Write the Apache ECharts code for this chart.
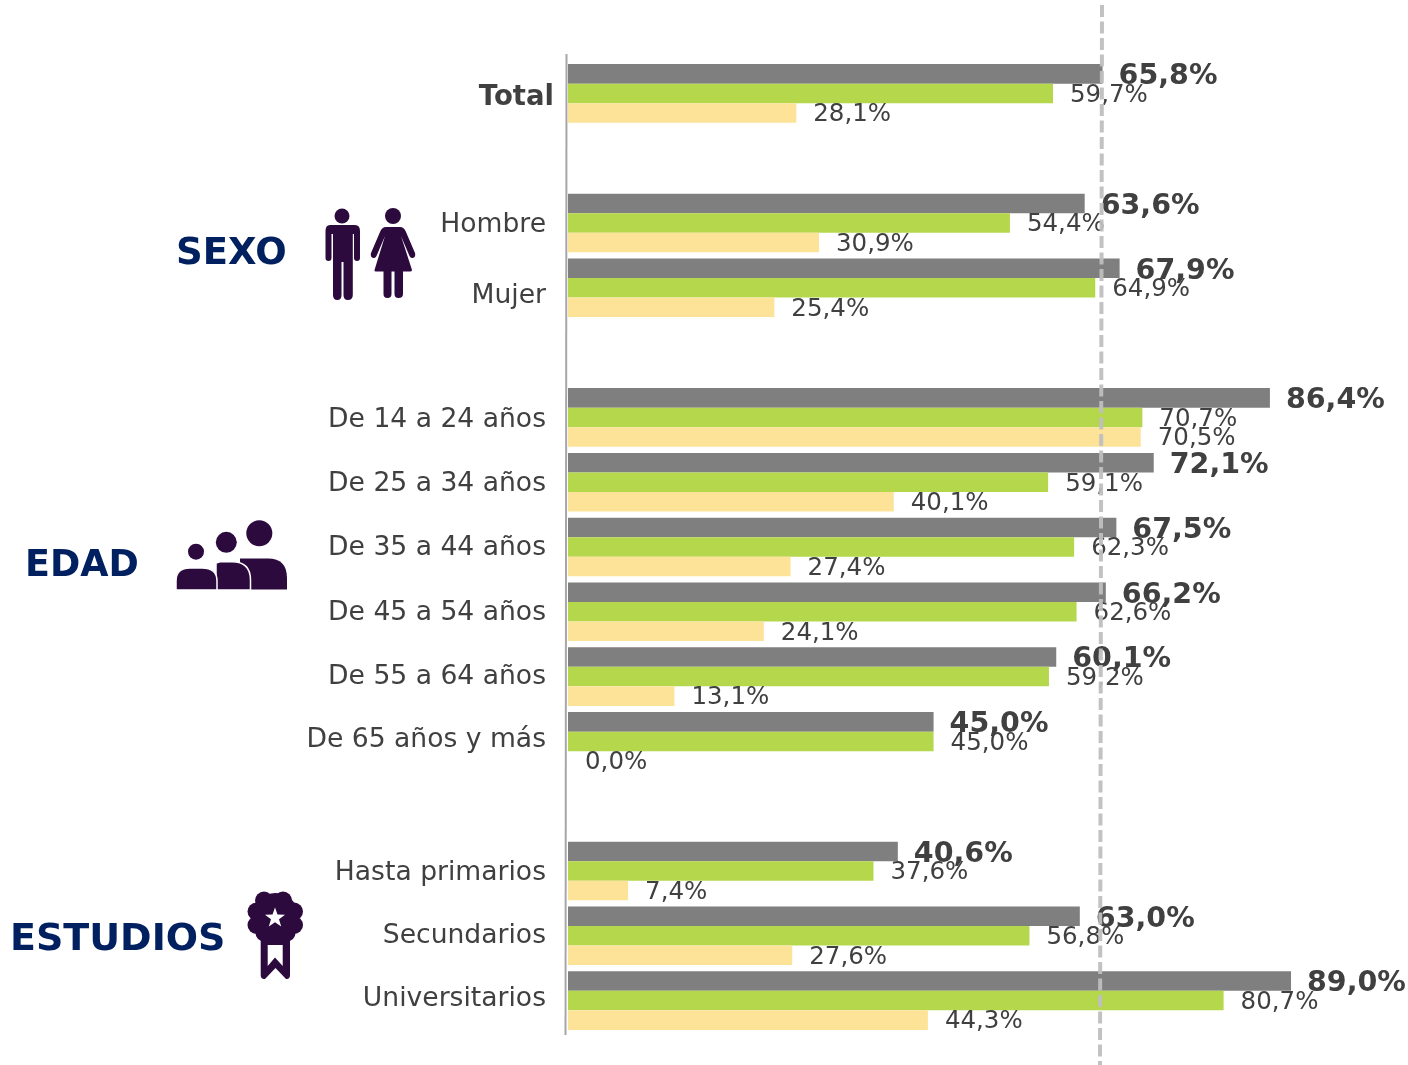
<!DOCTYPE html>
<html>
<head>
<meta charset="utf-8">
<title>Chart</title>
<script src="https://cdn.jsdelivr.net/npm/echarts@6/dist/echarts.min.js"></script>
<style>
html, body { margin: 0; padding: 0; background: #fff; }
#container { width: 1408px; height: 1065px; }
</style>
</head>
<body>
<div id="container"></div>
<script>
// empty strings are the gaps between the blocks
const categories = ['Total', '', 'Hombre', 'Mujer', ' ', 'De 14 a 24 años', 'De 25 a 34 años', 'De 35 a 44 años',
    'De 45 a 54 años', 'De 55 a 64 años', 'De 65 años y más', '  ', 'Hasta primarios', 'Secundarios', 'Universitarios'];
const greyValues = [65.8, null, 63.6, 67.9, null, 86.4, 72.1, 67.5, 66.2, 60.1, 45.0, null, 40.6, 63.0, 89.0];
const greenValues = [59.7, null, 54.4, 64.9, null, 70.7, 59.1, 62.3, 62.6, 59.2, 45.0, null, 37.6, 56.8, 80.7];
const yellowValues = [28.1, null, 30.9, 25.4, null, 70.5, 40.1, 27.4, 24.1, 13.1, 0.0, null, 7.4, 27.6, 44.3];
// how far each category text sits below the middle of its bars
const labelDrop = [4, 0, 2, 8, 0, 3, 2, 1, 1, 0, -1, 0, 2, 0, -2];

const textColor = '#404040';
const iconColor = '#2d0a3d';
const headingColor = '#002060';

function fmt(p) {
    return p.value.toFixed(1).replace('.', ',') + '%';
}

function barSeries(name, values, color, bold, dy) {
    return {
        name: name,
        type: 'bar',
        data: values,
        itemStyle: { color: color },
        label: {
            show: true,
            position: 'right',
            distance: bold ? 16 : 17,
            offset: [0, dy],
            formatter: fmt,
            color: textColor,
            fontFamily: 'DejaVu Sans',
            fontSize: bold ? 28.5 : 24.5,
            fontWeight: bold ? 'bold' : 'normal'
        }
    };
}

// per category rich style, padding moves the text up or down
const labelRich = {};
categories.forEach(function (c, i) {
    const d = labelDrop[i];
    labelRich['c' + i] = {
        fontFamily: 'DejaVu Sans',
        fontSize: i == 0 ? 27.5 : 26.6,
        fontWeight: i == 0 ? 'bold' : 'normal',
        color: textColor,
        padding: [d > 0 ? d * 2 : 0, i == 0 ? 0 : 8, d < 0 ? -d * 2 : 0, 0]
    };
});

function heading(text, x, y, size) {
    return {
        type: 'text',
        x: x,
        y: y,
        style: { text: text, fill: headingColor, font: 'bold ' + size + 'px "DejaVu Sans"', textAlign: 'left', textVerticalAlign: 'middle' }
    };
}
function dot(cx, cy, r) {
    return { type: 'circle', shape: { cx: cx, cy: cy, r: r }, style: { fill: iconColor } };
}
// the graphic component has no plain path type, so each outline is registered as a shape
let shapeCount = 0;
function shapePath(d, fill, stroke) {
    const shapeName = 'iconShape' + (shapeCount++);
    echarts.graphic.registerShape(shapeName, echarts.graphic.extendPath(d, {}));
    return { type: shapeName, style: { fill: fill || iconColor, stroke: stroke || null, lineWidth: stroke ? 1.5 : 0 } };
}

const graphics = [
    // axis line, it runs past the plot at both ends
    { type: 'line', shape: { x1: 566.5, y1: 54, x2: 565.5, y2: 1035 }, style: { stroke: '#a6a6a6', lineWidth: 2 } },

    heading('SEXO', 176, 254, 37),
    heading('EDAD', 25, 567, 36.5),
    heading('ESTUDIOS', 10, 940, 38),

    // man
    dot(342, 216, 7.5),
    shapePath('M330 225 H355 Q360 225 360 231 V258 Q360 261 357 261 Q354 261 354 258 V234 H352.8 V295 Q352.8 300 347.8 300 Q343.5 300 343.5 295 V262 H341.5 V295 Q341.5 300 337.3 300 Q333 300 333 295 V234 H331.5 V258 Q331.5 261 328.5 261 Q325.5 261 325.5 258 V231 Q325.5 225 330 225 Z'),
    // woman
    dot(393, 216, 8),
    shapePath('M386 227 H400 Q404 227 406 232 L415 253 Q416 257 413 258 Q410.5 258.5 409.5 256 L401 236 L412 270 Q412 271.5 410 271.5 H403 V294 Q403 298 398.5 298 Q394.5 298 394.5 294 V271.5 H391.5 V294 Q391.5 298 387.5 298 Q383.5 298 383.5 294 V271.5 H376 Q374 271.5 374.5 270 L385 236 L376.5 256 Q375.5 258.5 373 258 Q370 257 371 253 L380 232 Q382 227 386 227 Z'),

    // people
    dot(196, 551.7, 8),
    dot(226.3, 542.3, 10.5),
    dot(259.3, 533.3, 13),
    shapePath('M240 558.5 H268 Q287 558.5 287 578 V589.5 H240 Z'),
    shapePath('M220 561.7 H232 Q250.5 561.7 250.5 580 V590 H216 V563 Z', iconColor, '#ffffff'),
    shapePath('M176 590 V581 Q176 568 190 568 H202 Q217 568 217 581 V590 Z', iconColor, '#ffffff'),

    // medal
    dot(264, 900.5, 9), dot(283, 900.5, 9), dot(294, 911.5, 9), dot(294, 925, 9),
    dot(256.5, 911.5, 9), dot(256.5, 925, 9), dot(264, 933, 8.5), dot(287, 933, 8.5), dot(275.5, 916, 23),
    shapePath('M260.7 933 H290 V975 Q290 979.5 286 979 L275.5 968 L265 979 Q260.7 979.5 260.7 975 Z'),
    shapePath('M267.7 945 H282.7 V966 L275 957.5 L267.7 966 Z', '#ffffff'),
    shapePath('M275 907.5 L277.5 914.6 L285 914.8 L279 919.3 L281.2 926.5 L275 922.2 L268.8 926.5 L271 919.3 L265 914.8 L272.5 914.6 Z', '#ffffff')
];

const series = [
    barSeries('Grey', greyValues, '#7f7f7f', true, 3),
    barSeries('Green', greenValues, '#b5d74b', false, 2),
    barSeries('Yellow', yellowValues, '#fde398', false, 2)
];
series[0].barGap = 0;
series[0].barCategoryGap = '9.6%';
// reference line, slightly slanted in the picture
series[2].markLine = {
    silent: true,
    symbol: 'none',
    animation: false,
    label: { show: false },
    lineStyle: { color: '#bfbfbf', type: [12, 4.5], width: 4, opacity: 0.95 },
    data: [[{ x: 1102, y: 5 }, { x: 1100, y: 1065 }]]
};

const chart = echarts.init(document.getElementById('container'));
chart.setOption({
    animation: false,
    backgroundColor: '#ffffff',
    grid: { left: 568, top: 61, width: 812.4, height: 972 },
    xAxis: { type: 'value', min: 0, max: 100, show: false },
    yAxis: {
        type: 'category',
        inverse: true,
        data: categories,
        axisLine: { show: false },
        axisTick: { show: false },
        splitLine: { show: false },
        axisLabel: {
            margin: 14,
            interval: 0,
            formatter: function (v, i) {
                return v.trim() ? '{c' + i + '|' + v + '}' : '';
            },
            rich: labelRich
        }
    },
    series: series,
    graphic: graphics
});
</script>
</body>
</html>
